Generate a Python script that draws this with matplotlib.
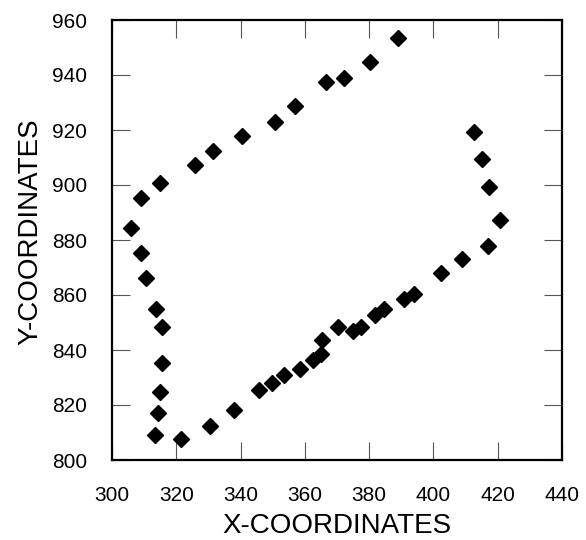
import matplotlib.pyplot as plt
import numpy as np

plt.rcParams['font.family'] = ['Liberation Sans', 'DejaVu Sans']

# top chain, right chain, bottom chain, left chain
x_top = [309.1, 315.0, 325.8, 331.3, 340.4, 350.7, 356.8, 366.6, 372.3, 380.4, 388.9]
y_top = [895.4, 900.7, 907.4, 912.5, 917.8, 922.9, 928.8, 937.3, 939.0, 944.6, 953.3]

x_right = [412.7, 415.1, 417.3, 420.6, 416.9]
y_right = [919.2, 909.6, 899.3, 887.2, 877.9]

x_bottom = [409.0, 402.4, 393.8, 390.9, 384.7, 381.8, 377.5, 375.1, 370.4, 365.3,
            364.9, 362.4, 358.5, 353.6, 349.9, 345.7, 338.1, 330.5, 321.5]
y_bottom = [873.1, 867.9, 860.2, 858.4, 854.9, 852.7, 848.5, 846.9, 848.5, 843.8,
            838.5, 836.5, 833.2, 831.0, 828.0, 825.3, 818.2, 812.5, 807.5]

x_left = [313.4, 314.3, 315.0, 315.6, 315.5, 313.7, 310.5, 309.0, 306.0]
y_left = [809.1, 817.2, 824.7, 835.3, 848.4, 854.8, 866.3, 875.4, 884.4]

x_data = np.array(x_top + x_right + x_bottom + x_left)
y_data = np.array(y_top + y_right + y_bottom + y_left)

fig = plt.figure(figsize=(5.86, 5.40), dpi=100)
ax = fig.add_axes([112/586, 80/540, 450/586, 440/540])
ax.plot(x_data, y_data, 'D', color='black', markersize=8.6, linestyle='none')

ax.set_xlim(300, 440)
ax.set_ylim(800, 960)
ax.set_xticks(range(300, 441, 20))
ax.set_yticks(range(800, 961, 20))
ax.tick_params(direction='in', length=13, width=0.8, color='#555555',
               top=True, right=True, labelsize=15)
ax.tick_params(axis='x', pad=19)
ax.tick_params(axis='y', pad=18)
for s in ax.spines.values():
    s.set_linewidth(1.6)

ax.set_xlabel("X-COORDINATES", fontsize=20)
ax.set_ylabel("Y-COORDINATES", fontsize=20)
ax.xaxis.set_label_coords(0.5, -0.12)
ax.yaxis.set_label_coords(-0.153, 0.518)

plt.savefig("out.png", dpi=100)
plt.close()
